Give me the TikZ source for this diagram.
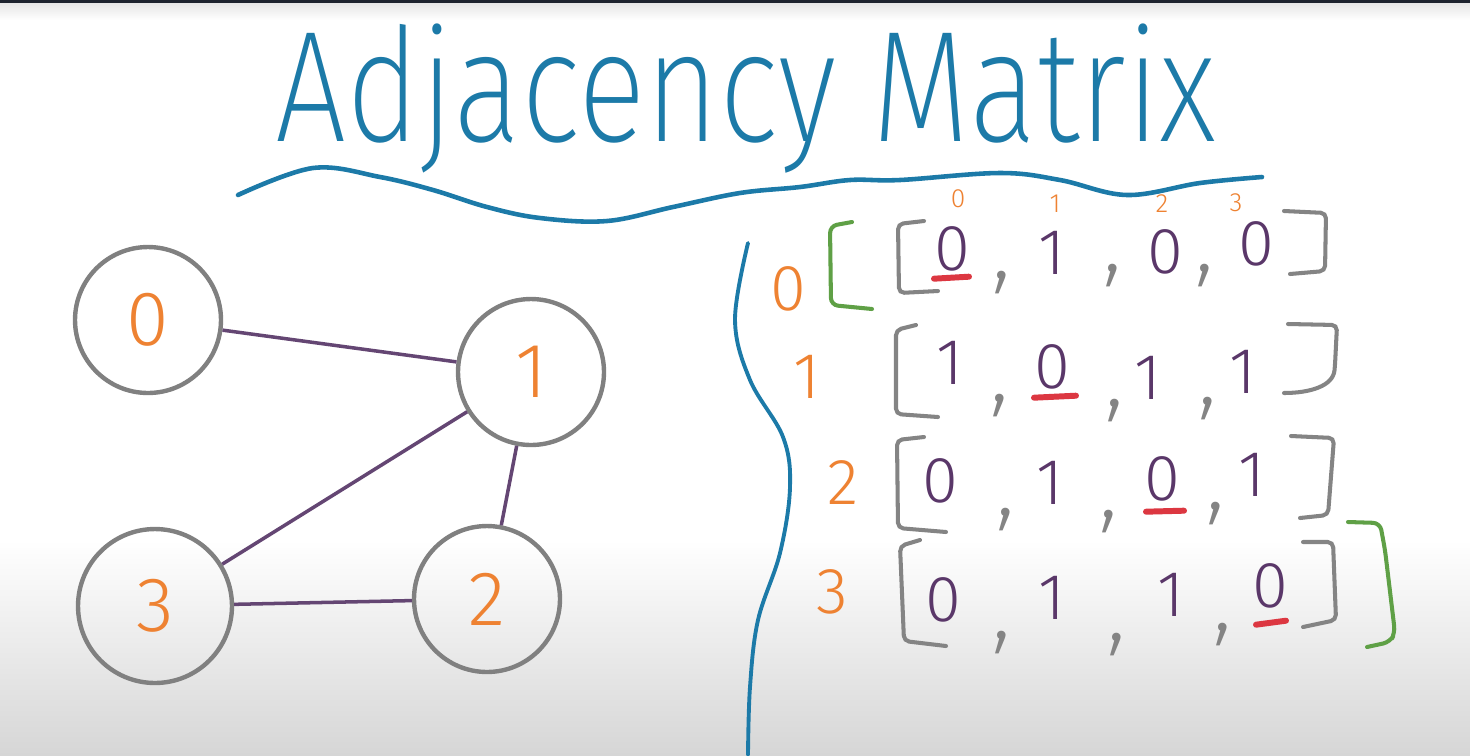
\documentclass[tikz,border=0pt]{standalone}
\usepackage{fontspec}
\setmainfont{Fira Sans Light}
\newfontfamily\titlefont{Fira Sans ExtraLight}
\usepackage{xcolor}
\definecolor{TitleBlue}{RGB}{28,122,168}
\definecolor{LabelOrange}{RGB}{238,130,50}
\definecolor{EntryPurple}{RGB}{90,55,105}
\definecolor{EdgePurple}{RGB}{100,70,115}
\definecolor{RingGray}{RGB}{128,128,128}
\definecolor{BracketGray}{RGB}{132,132,132}
\definecolor{BraceGreen}{RGB}{95,160,70}
\definecolor{DiagRed}{RGB}{220,55,65}
\definecolor{TopBar}{RGB}{28,34,45}
\definecolor{FloorGray}{RGB}{214,214,214}

\begin{document}
\begin{tikzpicture}[x=0.02cm,y=-0.02cm,
  vertex/.style={circle,draw=RingGray,line width=2.5pt,minimum size=2.92cm,inner sep=0pt,
                 text=LabelOrange,font=\fontsize{44}{44}\selectfont},
  link/.style={draw=EdgePurple,line width=2pt},
  entry/.style={inner sep=0pt,text=EntryPurple,font=\fontsize{37}{37}\selectfont},
  sepmark/.style={inner sep=0pt,text=BracketGray,font=\titlefont\fontsize{60}{60}\selectfont},
  rowlabel/.style={inner sep=0pt,text=LabelOrange,font=\fontsize{37}{37}\selectfont},
  collabel/.style={inner sep=0pt,text=LabelOrange,font=\fontsize{15}{15}\selectfont},
  bracket/.style={draw=BracketGray,line width=2.3pt,line cap=round,rounded corners=3pt},
  outerbracket/.style={draw=BraceGreen,line width=2.3pt,line cap=round,rounded corners=4pt},
  diagmark/.style={draw=DiagRed,line width=3.4pt,line cap=round},
  pen/.style={draw=TitleBlue,line width=2.6pt,line cap=round},
]
\useasboundingbox (0,0) rectangle (1470,755);
\fill[white] (0,0) rectangle (1470,755);
\shade[top color=white,bottom color=FloorGray] (0,540) rectangle (1470,755);
\shade[top color=black!10,bottom color=white] (0,3) rectangle (1470,20);
\fill[TopBar] (0,0) rectangle (1470,3);

\node[anchor=base,inner sep=0pt,text=TitleBlue,font=\titlefont\fontsize{90}{90}\selectfont]
  (title) at (746,141) {\scalebox{0.8}[1]{Adjacency Matrix}};
\draw[pen] plot[smooth,tension=0.6] coordinates {(238,195) (313,168) (380,177) (433,190)
  (487,207) (540,218) (607,221) (673,207) (740,193) (800,187) (850,180) (900,180)
  (1000,173) (1060,180) (1127,195) (1200,183) (1262,177)};
\draw[pen,line width=2.2pt] plot[smooth,tension=0.6] coordinates {(748,243) (735,320)
  (750,380) (783,437) (790,487) (780,553) (758,620) (750,687) (748,755)};

\node[vertex] (v0) at (148,320) {0};
\node[vertex] (v1) at (531,372) {1};
\node[vertex] (v2) at (487,599) {2};
\node[vertex,minimum size=3.08cm] (v3) at (155,606) {3};
\draw[link] (v0) -- (v1);
\draw[link] (v1) -- (v3);
\draw[link] (v1) -- (v2);
\draw[link] (v3) -- (v2);

\node[rowlabel] (r0) at (788,289) {0};
\node[rowlabel] (r1) at (807,377) {1};
\node[rowlabel] (r2) at (843,483) {2};
\node[rowlabel] (r3) at (832,592) {3};
\node[collabel] (k0) at (958,199) {0};
\node[collabel] (k1) at (1055,204) {1};
\node[collabel] (k2) at (1162,204) {2};
\node[collabel] (k3) at (1236,203) {3};

\node[entry] (m00) at (952,249) {0};
\node[entry] (m01) at (1052,253) {1};
\node[entry] (m02) at (1165,252) {0};
\node[entry] (m03) at (1256,244) {0};
\node[entry] (m10) at (950,363) {1};
\node[entry] (m11) at (1052,367) {0};
\node[entry] (m12) at (1148,378) {1};
\node[entry] (m13) at (1243,372) {1};
\node[entry] (m20) at (940,481) {0};
\node[entry] (m21) at (1050,483) {1};
\node[entry] (m22) at (1162,479) {0};
\node[entry] (m23) at (1252,475) {1};
\node[entry] (m30) at (943,600) {0};
\node[entry] (m31) at (1052,598) {1};
\node[entry] (m32) at (1171,595) {1};
\node[entry] (m33) at (1270,586) {0};

\node[sepmark] (s01) at (1002,283) {,};
\node[sepmark] (s02) at (1113,276) {,};
\node[sepmark] (s03) at (1205,276) {,};
\node[sepmark] (s11) at (1000,406) {,};
\node[sepmark] (s12) at (1115,411) {,};
\node[sepmark] (s13) at (1208,409) {,};
\node[sepmark] (s21) at (1006,520) {,};
\node[sepmark] (s22) at (1109,522) {,};
\node[sepmark] (s23) at (1216,514) {,};
\node[sepmark] (s31) at (1002,643) {,};
\node[sepmark] (s32) at (1117,645) {,};
\node[sepmark] (s33) at (1223,635) {,};

\draw[diagmark] ([shift={(-18,7)}]m00.south) -- ([shift={(17,5)}]m00.south);
\draw[diagmark] ([shift={(-18,8)}]m11.south) -- ([shift={(24,6)}]m11.south);
\draw[diagmark] ([shift={(-16,10)}]m22.south) -- ([shift={(22,9)}]m22.south);
\draw[diagmark] ([shift={(-14,16)}]m33.south) -- ([shift={(16,12)}]m33.south);

\draw[bracket] (924,221) -- (898,224) -- (899,293) -- (938,291);
\draw[bracket] (1284,211) -- (1326,213) -- (1325,271) -- (1290,274);
\draw[bracket] (916,325) -- (896,330) -- (896,414) -- (938,417);
\draw[bracket] (1288,324) -- (1337,325) -- (1335,365) .. controls (1333,386) and (1310,393) .. (1284,393);
\draw[bracket] (924,437) -- (897,440) -- (898,528) -- (946,532);
\draw[bracket] (1291,436) -- (1334,438) -- (1328,515) -- (1300,518);
\draw[bracket] (920,540) -- (900,546) -- (904,641) -- (946,646);
\draw[bracket] (1303,542) -- (1333,542) -- (1336,620) -- (1303,627);
\draw[outerbracket] (852,222) -- (830,226) -- (831,305) -- (872,309);
\draw[outerbracket] (1348,522) -- (1380,523) -- (1385,550) -- (1395,633) -- (1390,642) -- (1367,647);
\end{tikzpicture}
\end{document}
